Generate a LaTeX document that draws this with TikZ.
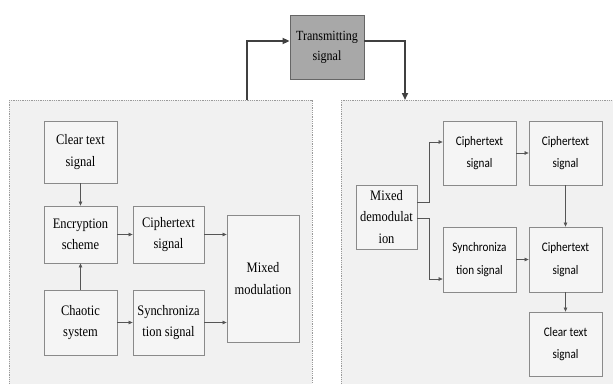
\documentclass[tikz,border=0pt]{standalone}
\usepackage{fontspec}
\setmainfont{Liberation Serif}[FakeStretch=0.86]
\newfontfamily\calib{Carlito}[FakeStretch=0.86]
\usetikzlibrary{arrows.meta,calc,shadows}
\definecolor{panelfill}{HTML}{F1F1F1}
\definecolor{panelline}{HTML}{9A9A9A}
\definecolor{boxfill}{HTML}{F5F5F5}
\definecolor{boxline}{HTML}{8A8A8A}
\definecolor{transfill}{HTML}{A8A8A8}
\definecolor{arrowcol}{HTML}{555555}
\tikzset{
  panel/.style={fill=panelfill, draw=panelline, densely dotted, line width=0.8pt},
  blk/.style={draw=boxline, fill=boxfill, line width=0.8pt, align=center, inner sep=1pt,
    drop shadow={shadow xshift=1pt, shadow yshift=-1pt, opacity=0.15},
    font=\fontsize{14.5}{21.5}\selectfont},
  sblk/.style={blk, font=\calib\fontsize{13}{22.5}\selectfont},
  trans/.style={draw=black!60, fill=transfill, line width=0.8pt, align=center, inner sep=1pt,
    font=\fontsize{14}{20}\selectfont},
  conn/.style={draw=arrowcol, line width=0.6pt, -{Triangle[length=4pt,width=3.5pt]}},
  bigconn/.style={draw=black!75, line width=1.6pt, -{Triangle[length=7pt,width=6pt]}}
}
\begin{document}
\begin{tikzpicture}[x=1pt,y=-1pt]
\useasboundingbox (0,0) rectangle (613,383);
\clip (0,0) rectangle (613,383);
% panels
\draw[panel] (9,100) rectangle (312,395);
\draw[panel] (341,100) rectangle (625,395);
\coordinate (lp) at (247,100);
\coordinate (rp) at (405,100);
% top
\node[trans, minimum width=74pt, minimum height=64pt] (tx) at (327,47) {Transmitting\\signal};
\coordinate (lc) at (247,41);
\coordinate (rc) at (405,41);
\draw[bigconn] (lp) -- (lc) -- (lc -| tx.west);
\draw[bigconn] (rc -| tx.east) -- (rc) -- (rp);
% left panel
\node[blk, minimum width=73pt, minimum height=62pt] (clearL) at (80.5,152) {Clear text\\signal};
\node[blk, minimum width=73pt, minimum height=57pt] (enc) at (80.5,234.5) {Encryption\\scheme};
\node[blk, minimum width=71pt, minimum height=57pt] (cipL) at (168.5,234.5) {Ciphertext\\signal};
\node[blk, minimum width=73pt, minimum height=65pt] (chaos) at (80.5,322.5) {Chaotic\\system};
\node[blk, minimum width=71pt, minimum height=65pt] (syncL) at (168.5,322.5) {Synchroniza\\tion signal};
\node[blk, minimum width=72pt, minimum height=127pt] (mix) at (263,278.5) {Mixed\\modulation};
\draw[conn] (clearL) -- (enc);
\draw[conn] (chaos) -- (enc);
\draw[conn] (enc) -- (cipL);
\draw[conn] (chaos) -- (syncL);
\draw[conn] (cipL.east) -- (cipL.east -| mix.west);
\draw[conn] (syncL.east) -- (syncL.east -| mix.west);
% right panel
\node[blk, minimum width=61pt, minimum height=64pt] (demod) at (386.5,217) {Mixed\\demodulat\\ion};
\node[sblk, minimum width=73pt, minimum height=64pt] (cip1) at (479.5,153) {Ciphertext\\signal};
\node[sblk, minimum width=73pt, minimum height=64pt] (cip2) at (565.5,153) {Ciphertext\\signal};
\node[sblk, minimum width=73pt, minimum height=65pt] (syncR) at (479.5,259.5) {Synchroniza\\tion signal};
\node[sblk, minimum width=73pt, minimum height=65pt] (cip3) at (565.5,259.5) {Ciphertext\\signal};
\node[sblk, minimum width=73pt, minimum height=64pt] (clearR) at (565.5,344) {Clear text\\signal};
\coordinate (d1) at ($(demod.east)+(0,-15)$);
\coordinate (d2) at ($(demod.east)+(0,1)$);
\coordinate (e1) at ($(cip1.west)+(0,-11)$);
\coordinate (e2) at ($(syncR.west)+(0,19.5)$);
\draw[conn] (d1) -- (d1 -| 429,0) -- (e1 -| 429,0) -- (e1);
\draw[conn] (d2) -- (d2 -| 429,0) -- (e2 -| 429,0) -- (e2);
\draw[conn] (cip1) -- (cip2);
\draw[conn] (cip2) -- (cip3);
\draw[conn] (syncR) -- (cip3);
\draw[conn] (cip3) -- (clearR);
\end{tikzpicture}
\end{document}
